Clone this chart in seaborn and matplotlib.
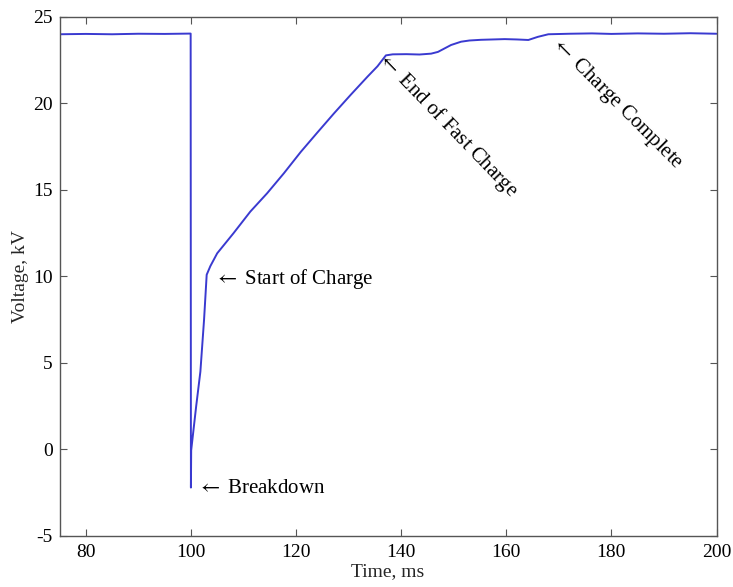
import matplotlib
matplotlib.use("Agg")
import matplotlib.pyplot as plt
import seaborn as sns
import pandas as pd

# Capacitor voltage trace around a breakdown event
time_ms = [75.0, 80.0, 85.0, 90.0, 95.0, 99.95, 100.0, 100.05, 101.0, 101.8,
           102.5, 103.0, 103.7, 105.0, 108.1, 111.3, 114.5, 117.7, 120.9,
           124.0, 127.2, 130.4, 133.6, 135.5, 137.1, 138.4, 141.0, 143.5,
           145.7, 147.0, 149.5, 151.4, 153.0, 155.2, 159.7, 162.0, 164.2,
           166.0, 168.0, 172.0, 176.3, 180.0, 185.0, 190.0, 195.0, 200.0]
voltage_kv = [24.00, 24.02, 24.00, 24.03, 24.02, 24.04, -2.20, -0.05, 2.50, 4.50,
              7.50, 10.10, 10.60, 11.34, 12.50, 13.75, 14.81, 15.97, 17.20,
              18.30, 19.42, 20.50, 21.55, 22.15, 22.78, 22.84, 22.85, 22.83,
              22.88, 22.98, 23.38, 23.57, 23.64, 23.68, 23.72, 23.70, 23.67,
              23.85, 24.00, 24.03, 24.05, 24.02, 24.05, 24.03, 24.06, 24.03]

x_ticks = [80, 100, 120, 140, 160, 180, 200]
y_ticks = [-5, 0, 5, 10, 15, 20, 25]

# (text, x, y, rotation)
notes = [
    ("Breakdown", 101.15, -2.25, 0),
    ("Start of Charge", 104.35, 9.85, 0),
    ("End of Fast Charge", 136.0, 22.8, -46),
    ("Charge Complete", 169.0, 23.65, -45),
]

sns.set_style("ticks")
plt.rcParams["font.family"] = ["Liberation Serif", "DejaVu Serif"]
plt.rcParams["mathtext.fontset"] = "stix"

df = pd.DataFrame({"Time, ms": time_ms, "Voltage, kV": voltage_kv})

fig = plt.figure(figsize=(7.33, 5.87), dpi=100)
ax = fig.add_axes([0.0812, 0.0869, 0.8963, 0.8842])

sns.lineplot(data=df, x="Time, ms", y="Voltage, kV", ax=ax, sort=False,
             estimator=None, color="#3a3ad0", linewidth=1.4)

ax.set_xlim(75, 200)
ax.set_ylim(-5, 25)
ax.set_xticks(x_ticks)
ax.set_yticks(y_ticks)
ax.set_xticklabels([str(t) for t in x_ticks])
ax.set_yticklabels([str(t) for t in y_ticks])

spine_color = "#555555"
for side in ["top", "right", "bottom", "left"]:
    ax.spines[side].set_visible(True)
    ax.spines[side].set_color(spine_color)
    ax.spines[side].set_linewidth(1.0)
ax.tick_params(axis="both", which="both", direction="in", length=5,
               width=0.8, color=spine_color, labelcolor="black",
               labelsize=14, top=True, right=True)
ax.tick_params(axis="x", pad=6)
ax.tick_params(axis="y", pad=5)

ax.set_xlabel("Time, ms", fontsize=14, labelpad=1)
ax.set_ylabel("Voltage, kV", fontsize=14, labelpad=3)

for text, x, y, rot in notes:
    ax.text(x, y, r"$\leftarrow$ " + text, fontsize=15, rotation=rot,
            rotation_mode="anchor", ha="left", va="center", color="black")

fig.savefig("out.png", dpi=100, facecolor="white")
